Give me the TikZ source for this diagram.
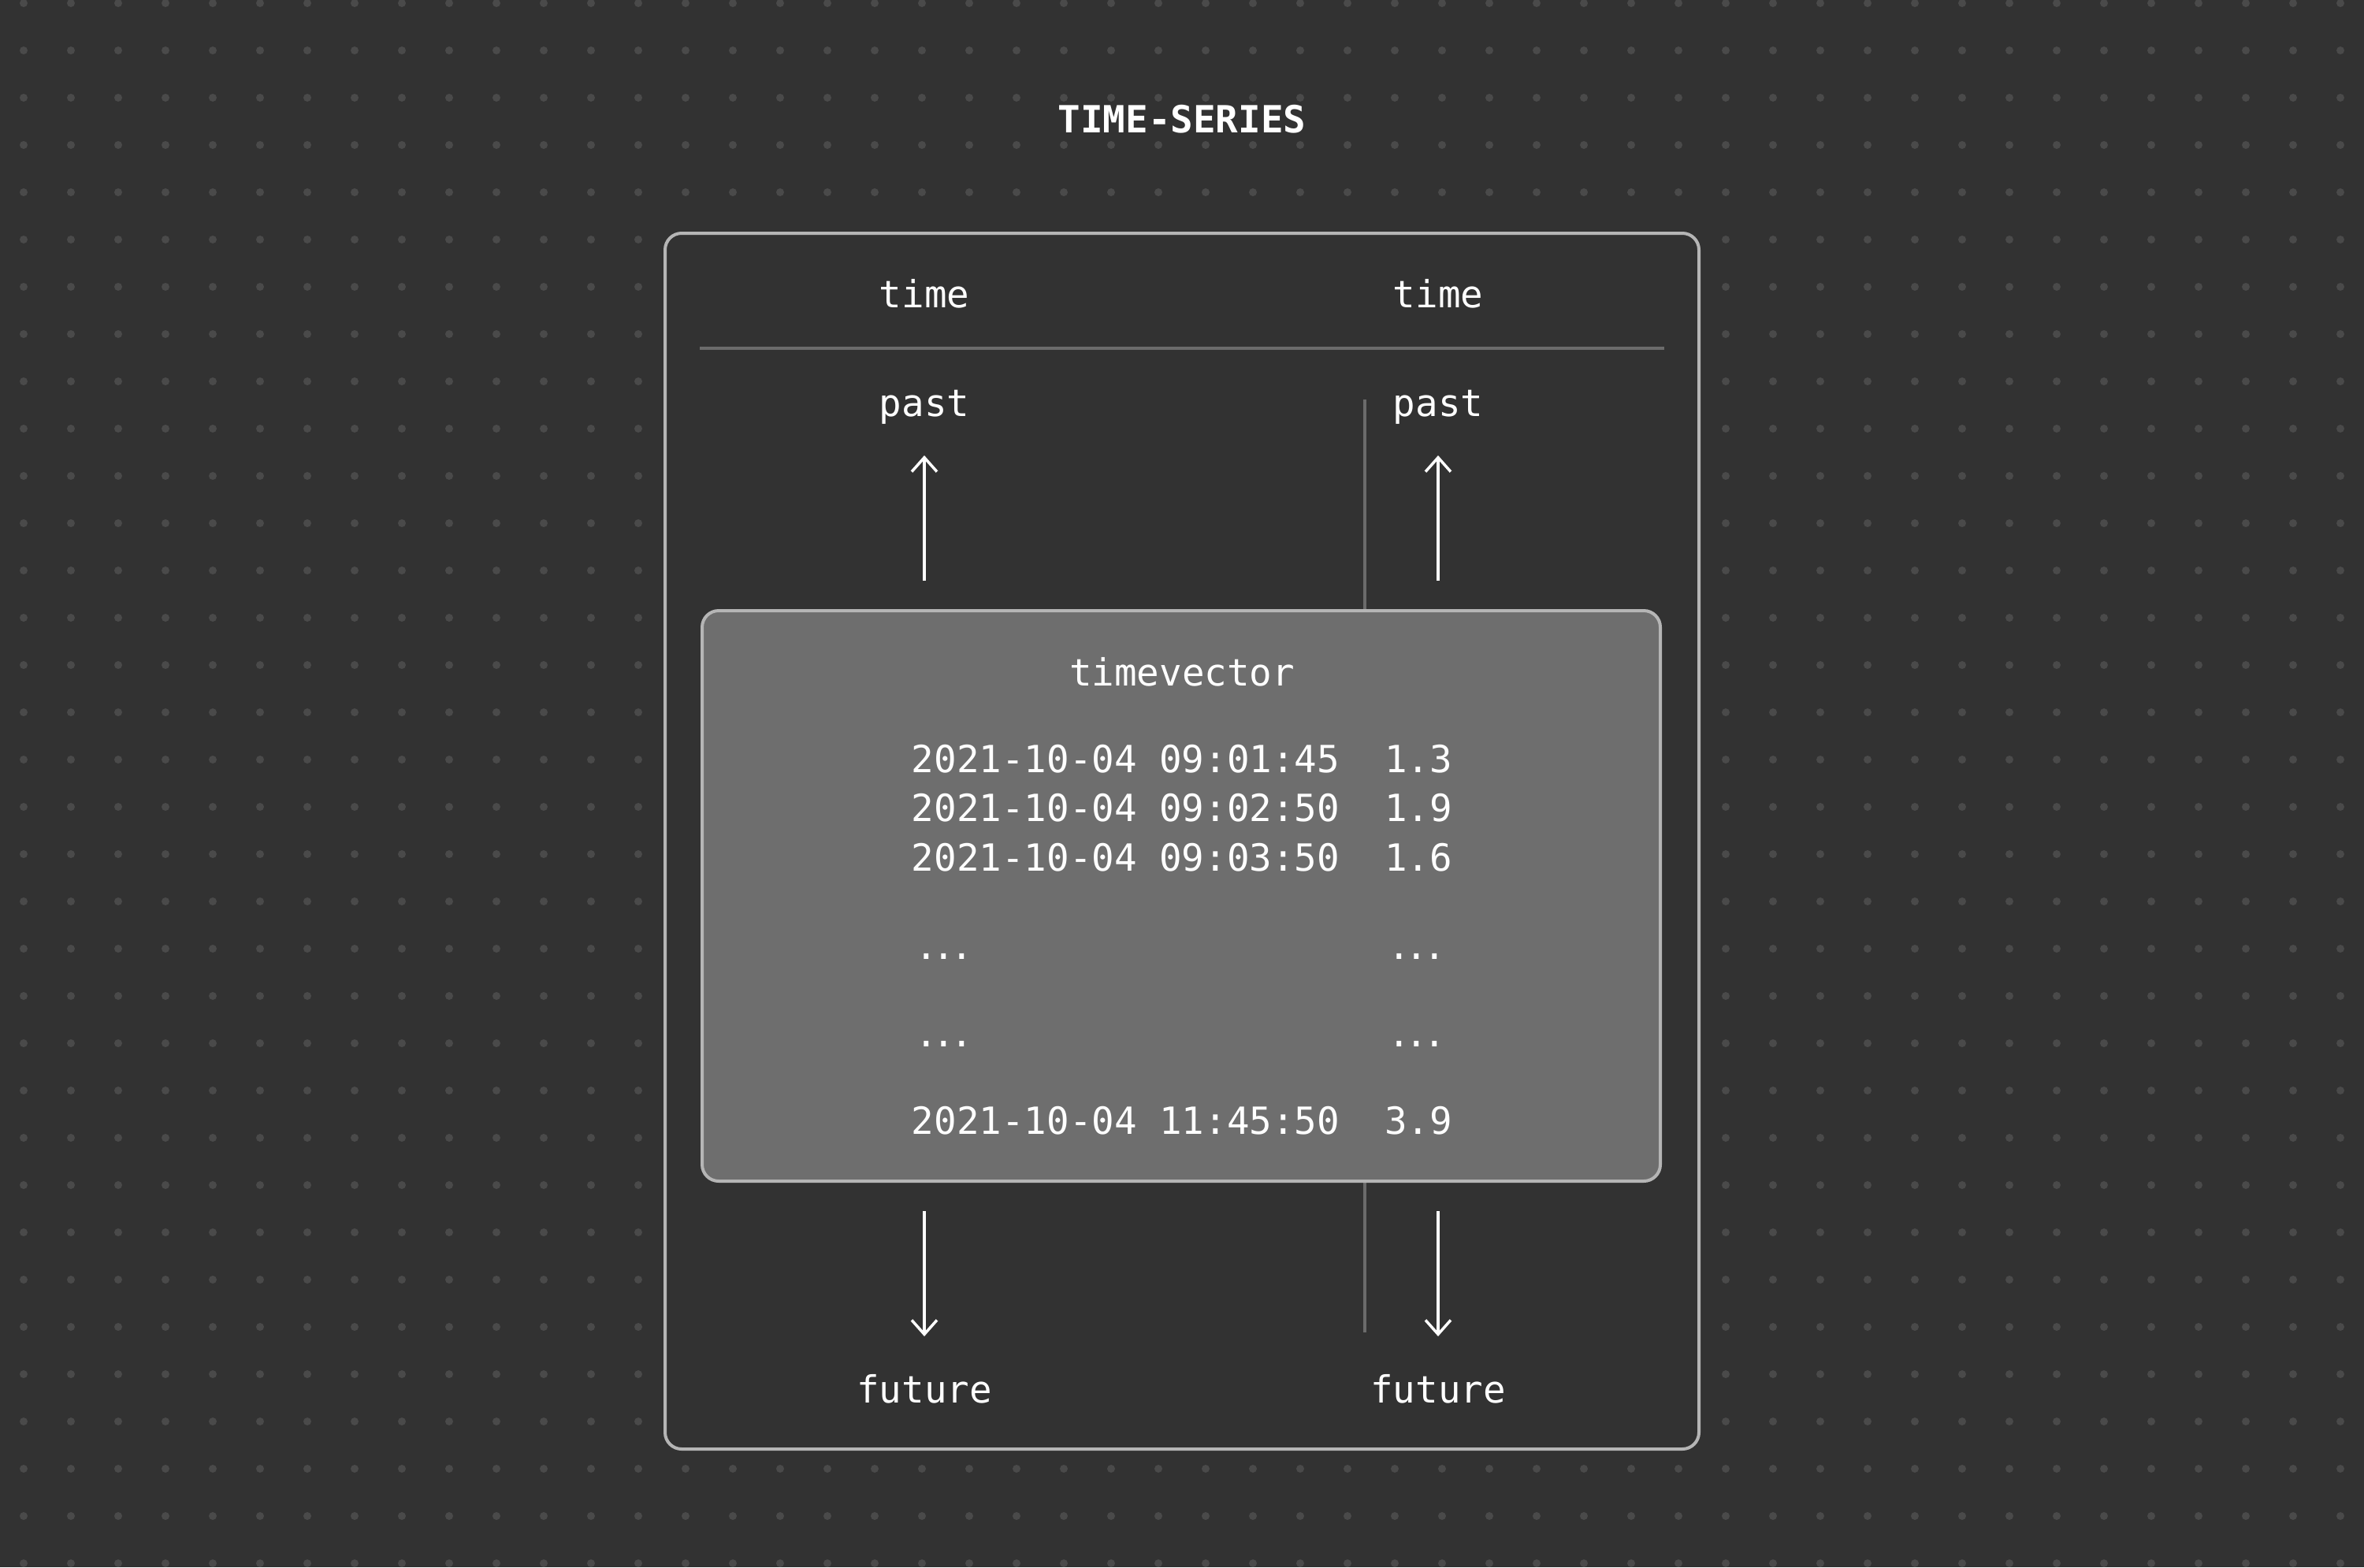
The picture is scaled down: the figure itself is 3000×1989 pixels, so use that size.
\documentclass[tikz,border=0pt]{standalone}
\usepackage{fontspec}
\setmonofont{DejaVu Sans Mono}
\usetikzlibrary{arrows.meta}
\definecolor{bgc}{HTML}{323232}
\definecolor{dotc}{HTML}{4A4A4A}
\definecolor{framec}{HTML}{B5B5B5}
\definecolor{rulec}{HTML}{6B6B6B}
\definecolor{tvfill}{HTML}{6E6E6E}
\begin{document}
\begin{tikzpicture}[x=1pt,y=-1pt,
  txt/.style={text=white,inner sep=0pt,font=\ttfamily\fontsize{47.5}{62.5}\selectfont},
  titletxt/.style={text=white,inner sep=0pt,font=\ttfamily\bfseries\fontsize{47.5}{62.5}\selectfont},
  outerbox/.style={draw=framec,line width=4pt,fill=bgc,rounded corners=21pt,inner sep=0pt,outer sep=0pt},
  innerbox/.style={draw=framec,line width=4pt,fill=tvfill,rounded corners=21pt,inner sep=0pt,outer sep=0pt},
  sepline/.style={draw=rulec,line width=4.5pt},
  timearrow/.style={draw=white,line width=3.5pt,-{Straight Barb[length=18pt,width=32pt]}}
]
\useasboundingbox (0,0) rectangle (3000,1989);
\fill[bgc] (0,0) rectangle (3000,1989);
% dot grid
\foreach \i in {0,...,49}{
  \foreach \j in {0,...,33}{
    \fill[dotc] (30+60*\i,4+60*\j) circle (5pt);
  }
}
% title
\node[titletxt,anchor=base] (title) at (1500,168) {TIME-SERIES};
% outer frame
\node[outerbox,minimum width=1312pt,minimum height=1543pt] (outer) at (1500,1067.5) {};
% header
\node[txt,anchor=base] (timeL) at (1173,390) {time};
\node[txt,anchor=base] (timeR) at (1825,390) {time};
\coordinate (sepA) at (888,442);
\coordinate (sepB) at (2112,442);
\draw[sepline] (sepA) -- (sepB);
% divider line behind the vector box
\coordinate (divTop) at (1732,507);
\coordinate (divBot) at (1732,1691);
\draw[sepline,line width=4pt] (divTop) -- (divBot);
% past labels and arrows
\node[txt,anchor=base] (pastL) at (1173,528) {past};
\node[txt,anchor=base] (pastR) at (1825,528) {past};
\coordinate (upLs) at (1173,737);
\coordinate (upLe) at (1173,578);
\coordinate (upRs) at (1825,737);
\coordinate (upRe) at (1825,578);
\draw[timearrow] (upLs) -- (upLe);
\draw[timearrow] (upRs) -- (upRe);
% timevector box
\node[innerbox,minimum width=1216pt,minimum height=724pt] (tv) at (1499,1137) {};
\node[txt,anchor=base] (tvtitle) at (1500,870) {timevector};
\node[txt,anchor=base] (row1) at (1500,980) {2021-10-04 09:01:45\ \ 1.3};
\node[txt,anchor=base] (row2) at (1500,1042.5) {2021-10-04 09:02:50\ \ 1.9};
\node[txt,anchor=base] (row3) at (1500,1105) {2021-10-04 09:03:50\ \ 1.6};
\node[txt,anchor=base west] (dots1L) at (1161,1217) {.\kern-5.9pt.\kern-5.9pt.};
\node[txt,anchor=base west] (dots1R) at (1761,1217) {.\kern-5.9pt.\kern-5.9pt.};
\node[txt,anchor=base west] (dots2L) at (1161,1328) {.\kern-5.9pt.\kern-5.9pt.};
\node[txt,anchor=base west] (dots2R) at (1761,1328) {.\kern-5.9pt.\kern-5.9pt.};
\node[txt,anchor=base] (rowN) at (1500,1439) {2021-10-04 11:45:50\ \ 3.9};
% future arrows and labels
\coordinate (dnLs) at (1173,1537);
\coordinate (dnLe) at (1173,1696);
\coordinate (dnRs) at (1825,1537);
\coordinate (dnRe) at (1825,1696);
\draw[timearrow] (dnLs) -- (dnLe);
\draw[timearrow] (dnRs) -- (dnRe);
\node[txt,anchor=base] (futureL) at (1173,1780) {future};
\node[txt,anchor=base] (futureR) at (1825,1780) {future};
\end{tikzpicture}
\end{document}
